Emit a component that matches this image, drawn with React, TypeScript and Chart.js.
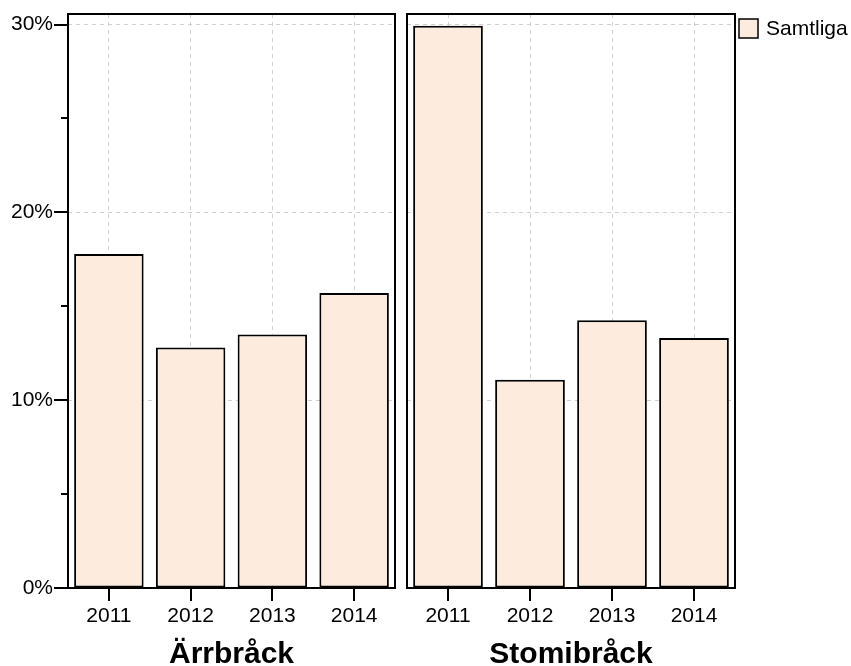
import React, { useEffect, useRef } from 'react';
import { Chart, registerables } from 'chart.js';

Chart.register(...registerables);

// ---- data ----
const years = ['2011', '2012', '2013', '2014'];
const arrbrack = [17.78, 12.8, 13.5, 15.71];
const stomibrack = [29.94, 11.09, 14.25, 13.31];
const panelTitles = ['Ärrbråck', 'Stomibråck'];
const seriesLabel = 'Samtliga';
const yMajorTicks = [0, 10, 20, 30];
const yMinorTicks = [5, 15, 25];
const yMin = 0;
const yMax = 30.56;

// ---- style ----
const FILL = '#FDEBDD';
const GRID = '#d0d0d0';
const FONT = "'Liberation Sans', Arial, Helvetica, sans-serif";

const decorPlugin = {
  id: 'panelDecor',
  afterDraw(chart: any, _args: any, opts: any) {
    const { ctx, chartArea: a, scales } = chart;
    ctx.save();
    ctx.strokeStyle = '#000';
    ctx.lineWidth = 2;
    ctx.strokeRect(a.left, a.top, a.right - a.left, a.bottom - a.top);
    ctx.beginPath();
    const xs = scales.x;
    xs.ticks.forEach((_t: any, i: number) => {
      const px = Math.round(xs.getPixelForTick(i));
      ctx.moveTo(px, a.bottom);
      ctx.lineTo(px, a.bottom + 13);
    });
    if (opts && opts.yTicks) {
      const ys = scales.y;
      yMajorTicks.forEach((v) => {
        const py = Math.round(ys.getPixelForValue(v));
        ctx.moveTo(a.left - 14, py);
        ctx.lineTo(a.left, py);
      });
      yMinorTicks.forEach((v) => {
        const py = Math.round(ys.getPixelForValue(v));
        ctx.moveTo(a.left - 7, py);
        ctx.lineTo(a.left, py);
      });
    }
    ctx.stroke();
    if (opts && opts.legend) {
      const label = chart.data.datasets[0].label;
      const bx = a.right + 4;
      const by = 19;
      ctx.fillStyle = FILL;
      ctx.fillRect(bx, by, 19, 19);
      ctx.lineWidth = 1.5;
      ctx.strokeRect(bx, by, 19, 19);
      ctx.fillStyle = '#000';
      ctx.font = `21px ${FONT}`;
      ctx.textAlign = 'left';
      ctx.textBaseline = 'middle';
      ctx.fillText(label, bx + 27, by + 10);
    }
    ctx.restore();
  },
};

function makeConfig(values: number[], title: string, isLeft: boolean, canvasWidth: number, plotRight: number) {
  return {
    type: 'bar' as const,
    data: {
      labels: years,
      datasets: [
        {
          label: seriesLabel,
          data: values,
          backgroundColor: FILL,
          borderColor: '#000',
          borderWidth: 2,
          borderSkipped: false,
          barPercentage: 0.85,
          categoryPercentage: 1.0,
        },
      ],
    },
    options: {
      responsive: false,
      animation: false as const,
      events: [] as any[],
      layout: { padding: { top: 14, right: canvasWidth - plotRight, left: 0, bottom: 0 } },
      plugins: {
        legend: { display: false },
        tooltip: { enabled: false },
        panelDecor: { yTicks: isLeft, legend: !isLeft },
      },
      scales: {
        x: {
          type: 'category' as const,
          offset: true,
          grid: { offset: false, color: GRID, lineWidth: 1, drawTicks: false },
          border: { display: false, dash: [4, 4] },
          ticks: { color: '#000', font: { family: FONT, size: 21 }, padding: 16, maxRotation: 0 },
          title: {
            display: true,
            text: title,
            color: '#000',
            font: { family: FONT, size: 30, weight: 'bold' as const, lineHeight: 0.73 },
            padding: { top: 0, bottom: 0 },
          },
          afterFit: (s: any) => {
            s.height = 78;
            s.paddingLeft = 0;
            s.paddingRight = 0;
            s.paddingTop = 0;
            s.paddingBottom = 0;
          },
        },
        y: {
          type: 'linear' as const,
          min: yMin,
          max: yMax,
          afterBuildTicks: (s: any) => {
            s.ticks = [...yMajorTicks, ...yMinorTicks].sort((p, q) => p - q).map((v) => ({ value: v }));
          },
          grid: {
            color: (c: any) => (c.tick && yMajorTicks.includes(c.tick.value) && c.tick.value !== 0 ? GRID : 'rgba(0,0,0,0)'),
            lineWidth: 1,
            drawTicks: false,
          },
          border: { display: false, dash: [4, 4] },
          ticks: {
            display: isLeft,
            color: '#000',
            font: { family: FONT, size: 21 },
            padding: 15,
            callback: (v: any) => (yMajorTicks.includes(Number(v)) ? `${v}%` : ''),
          },
          afterFit: (s: any) => {
            s.width = isLeft ? 68 : 7;
            s.paddingLeft = 0;
            s.paddingRight = 0;
            s.paddingTop = 0;
            s.paddingBottom = 0;
          },
        },
      },
    },
    plugins: [decorPlugin],
  };
}

export default function App() {
  const leftRef = useRef<HTMLCanvasElement | null>(null);
  const rightRef = useRef<HTMLCanvasElement | null>(null);

  useEffect(() => {
    Chart.defaults.font.family = FONT;
    const c1 = new Chart(leftRef.current as HTMLCanvasElement, makeConfig(arrbrack, panelTitles[0], true, 400, 395) as any);
    const c2 = new Chart(rightRef.current as HTMLCanvasElement, makeConfig(stomibrack, panelTitles[1], false, 451, 335) as any);
    return () => {
      c1.destroy();
      c2.destroy();
    };
  }, []);

  return (
    <div style={{ position: 'absolute', left: 0, top: 0, width: 851, height: 666, background: '#fff' }}>
      <canvas ref={leftRef} width={400} height={666} style={{ position: 'absolute', left: 0, top: 0, width: 400, height: 666 }} />
      <canvas ref={rightRef} width={451} height={666} style={{ position: 'absolute', left: 400, top: 0, width: 451, height: 666 }} />
    </div>
  );
}
